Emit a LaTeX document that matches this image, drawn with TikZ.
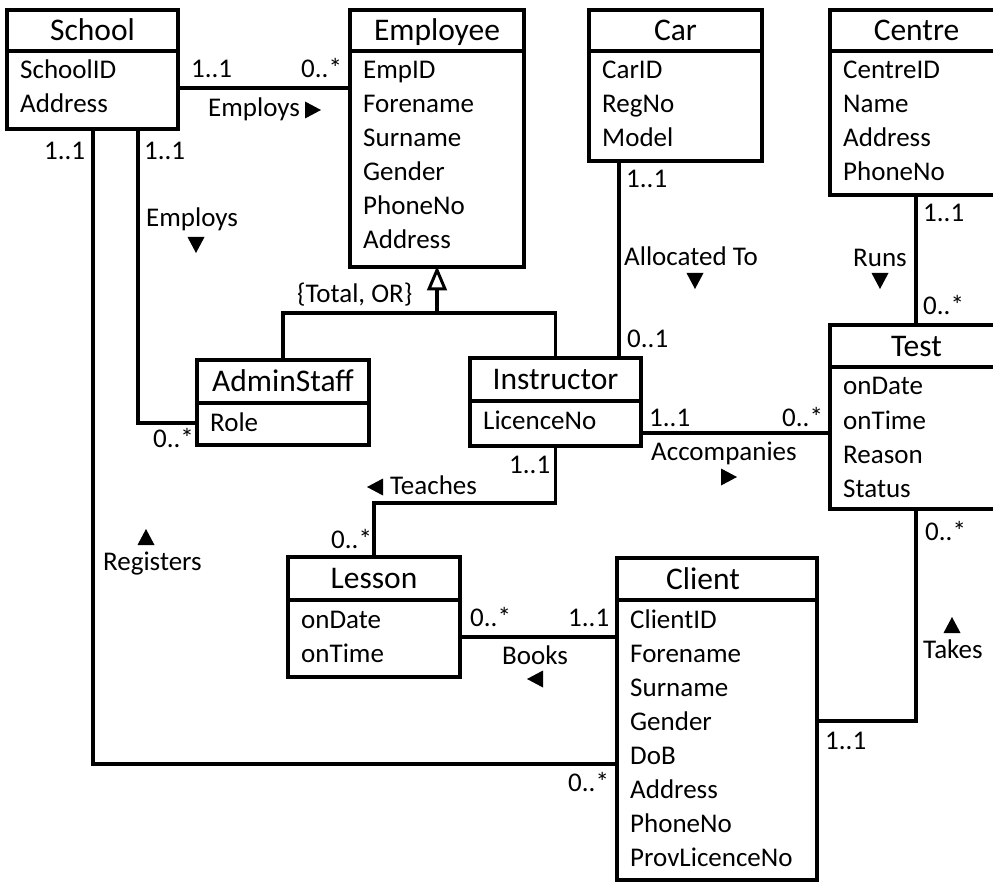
\documentclass[tikz,border=0pt]{standalone}
\usepackage{fontspec}
\setmainfont{Carlito}
\tikzset{
  box/.style={draw, rectangle, line width=3.2pt, inner sep=0pt},
  boxline/.style={line width=3.2pt},
  conn/.style={line width=3.2pt},
  titletext/.style={anchor=base, inner sep=0pt, font=\fontsize{31.5}{36}\selectfont},
  attrtext/.style={anchor=base west, inner sep=0pt, font=\fontsize{27}{32}\selectfont},
  lbl/.style={anchor=base west, inner sep=0pt, font=\fontsize{27}{32}\selectfont},
  tri r/.pic={\fill (-8,-8.5) -- (8,0) -- (-8,8.5) -- cycle;},
  tri l/.pic={\fill (8,-8.5) -- (-8,0) -- (8,8.5) -- cycle;},
  tri d/.pic={\fill (-8.5,-8) -- (8.5,-8) -- (0,8) -- cycle;},
  tri u/.pic={\fill (-8.5,8) -- (8.5,8) -- (0,-8) -- cycle;},
}
\newcommand{\umlclass}[9]{%
  \node[box, minimum width={(#4)-(#2)}, minimum height={(#6)-(#3)}] (#1) at ({((#2)+(#4))/2},{((#3)+(#6))/2}) {};
  \draw[boxline] (#2,#5) -- (#4,#5);
  \node[titletext] (#1-title) at (#7,{((#3)+(#5))/2+10}) {#8};
  \foreach \a [count=\i] in {#9} {\node[attrtext] (#1-a\i) at ({(#2)+13},{(#5)+28+34*(\i-1)}) {\a};}
}
\begin{document}
\begin{tikzpicture}[x=1pt,y=-1pt]
\useasboundingbox (0,0) rectangle (993,882);
\clip (0,0) rectangle (993,882);
\fill[white] (0,0) rectangle (993,882);

\umlclass{school}{7}{10}{178}{51}{129}{92.5}{School}{SchoolID,Address}
\umlclass{employee}{350}{10}{524}{51}{267}{437}{Employee}{EmpID,Forename,Surname,Gender,PhoneNo,Address}
\umlclass{car}{589}{10}{762}{51}{161}{675.5}{Car}{CarID,RegNo,Model}
\umlclass{centre}{830}{10}{1003}{51}{195}{916.5}{Centre}{CentreID,Name,Address,PhoneNo}
\umlclass{test}{830}{325}{1003}{367}{509}{916.5}{Test}{onDate,onTime,Reason,Status}
\umlclass{admin}{197}{360}{369}{403}{445}{283}{AdminStaff}{Role}
\umlclass{instr}{470}{358}{641}{401}{446}{555.5}{Instructor}{LicenceNo}
\umlclass{lesson}{288}{557}{460}{600}{677}{374}{Lesson}{onDate,onTime}
\umlclass{client}{617}{558}{817}{600}{880}{703}{Client}{ClientID,Forename,Surname,Gender,DoB,Address,PhoneNo,ProvLicenceNo}

% connectors
\draw[conn] (school.east |- 0,88) -- (employee.west |- 0,88);
\draw[conn] (school.south -| 93,0) |- (client.west |- 0,764);
\draw[conn] (school.south -| 138,0) |- (admin.west |- 0,423);
\coordinate (gen) at (employee.south |- 0,313);
\coordinate (genbase) at (employee.south |- 0,289);
\draw[conn] (admin.north) |- (gen) -| (instr.north);
\draw[conn] (gen) -- (genbase);
\draw[line width=3pt, line join=miter, fill=white] ([yshift=-1.5pt]employee.south) -- ([xshift=-8pt]genbase) -- ([xshift=8pt]genbase) -- cycle;
\draw[conn] (car.south -| 619,0) -- (instr.north -| 619,0);
\draw[conn] (centre.south -| 916,0) -- (test.north -| 916,0);
\draw[conn] (instr.east |- 0,433) -- (test.west |- 0,433);
\coordinate (tch) at (lesson.north |- 0,503);
\draw[conn] (instr.south) |- (tch) -- (lesson.north);
\draw[conn] (lesson.east |- 0,637) -- (client.west |- 0,637);
\draw[conn] (test.south -| 916,0) |- (client.east |- 0,721);

% labels
\node[lbl] (l1) at (191,78) {1..1};
\node[lbl] (l2) at (301,78) {0..*};
\node[lbl] (l3) at (208,117) {Employs};
\pic at (313,110) {tri r};
\node[lbl] (l4) at (44,160) {1..1};
\node[lbl] (l5) at (144,160) {1..1};
\node[lbl] (l6) at (146,227) {Employs};
\pic at (196,245) {tri d};
\node[lbl] (l7) at (297,303) {\{Total, OR\}};
\node[lbl] (l8) at (153,447) {0..*};
\node[lbl] (l9) at (103,570) {Registers};
\pic at (146,537) {tri u};
\node[lbl] (l10) at (390,494) {Teaches};
\pic at (375,487) {tri l};
\node[lbl] (l11) at (331,548) {0..*};
\node[lbl] (l12) at (509,473) {1..1};
\node[lbl] (l13) at (627,348) {0..1};
\node[lbl] (l14) at (649,426) {1..1};
\node[lbl] (l15) at (782,426) {0..*};
\node[lbl] (l16) at (651,460) {Accompanies};
\pic at (729,477) {tri r};
\node[lbl] (l17) at (626,188) {1..1};
\node[lbl] (l18) at (624,266) {Allocated To};
\pic at (695,281) {tri d};
\node[lbl] (l19) at (923,222) {1..1};
\node[lbl] (l20) at (853,267) {Runs};
\pic at (880,281) {tri d};
\node[lbl] (l21) at (923,315) {0..*};
\node[lbl] (l22) at (925,540) {0..*};
\node[lbl] (l23) at (923,658) {Takes};
\pic at (952,625) {tri u};
\node[lbl] (l24) at (825,749) {1..1};
\node[lbl] (l25) at (470,626) {0..*};
\node[lbl] (l26) at (568,626) {1..1};
\node[lbl] (l27) at (502,664) {Books};
\pic at (535,679) {tri l};
\node[lbl] (l28) at (568,791) {0..*};
\end{tikzpicture}
\end{document}
